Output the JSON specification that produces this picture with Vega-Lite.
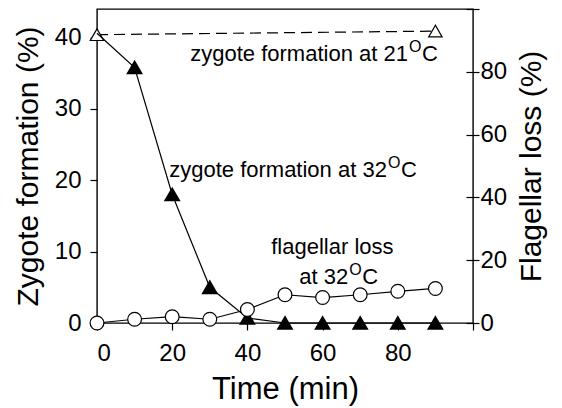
{
  "$schema": "https://vega.github.io/schema/vega-lite/v6.json",
  "width": 376,
  "height": 314,
  "autosize": {"type": "none"},
  "padding": {"left": 97, "top": 9, "right": 89, "bottom": 85},
  "background": "white",
  "config": {
    "view": {"stroke": "black", "strokeWidth": 1.4},
    "font": "Liberation Sans",
    "axis": {
      "grid": false,
      "domain": false,
      "tickColor": "black",
      "tickWidth": 1.2,
      "labelColor": "black",
      "titleColor": "black",
      "labelFont": "Liberation Sans",
      "titleFont": "Liberation Sans",
      "titleFontWeight": "normal",
      "labelFontSize": 24,
      "titleFontSize": 30
    },
    "text": {"font": "Liberation Sans", "color": "black"}
  },
  "datasets": {
    "z32": [
      {"time": 0, "pct": 40.6},
      {"time": 10, "pct": 35.8},
      {"time": 20, "pct": 18.0},
      {"time": 30, "pct": 5.0},
      {"time": 40, "pct": 0.7},
      {"time": 50, "pct": 0},
      {"time": 60, "pct": 0},
      {"time": 70, "pct": 0},
      {"time": 80, "pct": 0},
      {"time": 90, "pct": 0}
    ],
    "z21": [
      {"time": 0, "pct": 40.4},
      {"time": 90, "pct": 40.9}
    ],
    "flag": [
      {"time": 0, "loss": 0},
      {"time": 10, "loss": 1.2},
      {"time": 20, "loss": 2.0},
      {"time": 30, "loss": 1.2},
      {"time": 40, "loss": 4.3},
      {"time": 50, "loss": 9.0},
      {"time": 60, "loss": 8.1},
      {"time": 70, "loss": 9.0},
      {"time": 80, "loss": 10.1},
      {"time": 90, "loss": 11.0}
    ],
    "notes": [
      {"label": "zygote formation at 21", "time": 82.7, "pct": 36.7},
      {"label": "zygote formation at 32", "time": 77.1, "pct": 20.5},
      {"label": "at 32", "time": 66.8, "pct": 5.5}
    ],
    "notes2": [
      {"label": "flagellar loss", "time": 62.6, "pct": 9.6}
    ]
  },
  "encoding": {
    "x": {
      "field": "time",
      "type": "quantitative",
      "scale": {"domain": [0, 100], "nice": false},
      "axis": {
        "title": "Time (min)",
        "values": [0, 20, 40, 60, 80, 100],
        "labelExpr": "datum.value == 100 ? '' : datum.label",
        "tickSize": 7,
        "labelPadding": 11,
        "titlePadding": 9,
        "titleFontSize": 31
      }
    }
  },
  "layer": [
    {
      "encoding": {
        "y": {
          "field": "pct",
          "type": "quantitative",
          "scale": {"domain": [0, 44], "nice": false},
          "axis": {
            "title": "Zygote formation (%)",
            "values": [0, 10, 20, 30, 40],
            "tickSize": 7,
            "labelPadding": 9,
            "titlePadding": 11
          }
        }
      },
      "layer": [
        {
          "data": {"name": "z21"},
          "mark": {"type": "line", "color": "black", "strokeWidth": 1.2, "strokeDash": [11, 6]}
        },
        {
          "data": {"name": "z21"},
          "mark": {"type": "point", "shape": "triangle-up", "size": 180, "filled": true, "fill": "white", "stroke": "black", "strokeWidth": 1.2, "opacity": 1}
        },
        {
          "data": {"name": "z32"},
          "mark": {"type": "line", "color": "black", "strokeWidth": 1.2}
        },
        {
          "data": {"name": "z32"},
          "transform": [{"filter": "datum.time > 0"}],
          "mark": {"type": "point", "shape": "triangle-up", "size": 180, "filled": true, "fill": "black", "stroke": "black", "opacity": 1}
        },
        {
          "data": {"name": "notes"},
          "mark": {"type": "text", "align": "right", "baseline": "alphabetic", "fontSize": 22},
          "encoding": {"text": {"field": "label"}}
        },
        {
          "data": {"name": "notes"},
          "mark": {"type": "text", "align": "left", "baseline": "alphabetic", "fontSize": 16, "dx": 1, "dy": -9, "text": "O"}
        },
        {
          "data": {"name": "notes"},
          "mark": {"type": "text", "align": "left", "baseline": "alphabetic", "fontSize": 22, "dx": 14, "text": "C"}
        },
        {
          "data": {"name": "notes2"},
          "mark": {"type": "text", "align": "center", "baseline": "alphabetic", "fontSize": 22},
          "encoding": {"text": {"field": "label"}}
        }
      ]
    },
    {
      "data": {"name": "flag"},
      "encoding": {
        "y": {
          "field": "loss",
          "type": "quantitative",
          "scale": {"domain": [0, 100], "nice": false},
          "axis": {
            "orient": "right",
            "title": "Flagellar loss (%)",
            "values": [0, 20, 40, 60, 80, 100],
            "labelExpr": "datum.value == 100 ? '' : datum.label",
            "offset": -7,
            "tickSize": 13,
            "labelPadding": 1,
            "titlePadding": 10,
            "titleAngle": 270,
            "titleBaseline": "top"
          }
        }
      },
      "layer": [
        {"mark": {"type": "line", "color": "black", "strokeWidth": 1.2}},
        {"mark": {"type": "point", "shape": "circle", "size": 190, "filled": true, "fill": "white", "stroke": "black", "strokeWidth": 1.2, "opacity": 1}}
      ]
    }
  ],
  "resolve": {"scale": {"y": "independent"}}
}
